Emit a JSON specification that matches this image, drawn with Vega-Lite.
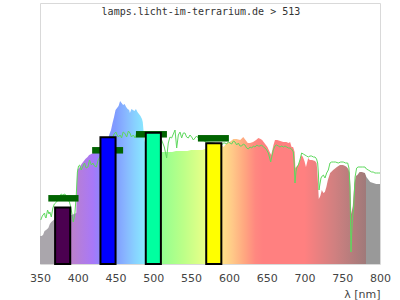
{
  "$schema": "https://vega.github.io/schema/vega-lite/v6.json",
  "width": 340,
  "height": 261,
  "autosize": {"type": "none"},
  "padding": {"left": 40, "top": 3, "right": 20, "bottom": 36},
  "background": "white",
  "config": {
    "view": {"stroke": "#d9d9d9", "strokeWidth": 1},
    "font": "DejaVu Sans",
    "axisX": {
      "grid": false, "domain": false, "ticks": false, "tickSize": 0, "labelPadding": 8,
      "labelFont": "DejaVu Sans", "labelFontSize": 11, "labelColor": "#444444",
      "labelFlush": false, "labelOverlap": false,
      "titleFont": "DejaVu Sans", "titleFontSize": 11, "titleFontWeight": "normal", "titleColor": "#444444",
      "titleAnchor": "end", "titleAlign": "right", "titleBaseline": "alphabetic", "titleX": 340, "titleY": 33
    }
  },
  "datasets": {
    "spectrum": [
      {"wl":350,"value":28},{"wl":352,"value":28},{"wl":354,"value":29},{"wl":356,"value":33},{"wl":358,"value":34},{"wl":361,"value":36},{"wl":363,"value":40},{"wl":365,"value":42},{"wl":368,"value":44},{"wl":372,"value":46},{"wl":376,"value":47},{"wl":380,"value":48},{"wl":385,"value":48},{"wl":390,"value":49},{"wl":392,"value":49},{"wl":395,"value":50},{"wl":398,"value":51},{"wl":399,"value":90},{"wl":400,"value":95},{"wl":402,"value":96},{"wl":405,"value":100},{"wl":408,"value":103},{"wl":410,"value":105},{"wl":413,"value":107},{"wl":415,"value":109},{"wl":418,"value":110},{"wl":420,"value":111},{"wl":423,"value":113},{"wl":425,"value":114},{"wl":428,"value":116},{"wl":432,"value":118},{"wl":436,"value":121},{"wl":440,"value":125},{"wl":442,"value":130},{"wl":444,"value":134},{"wl":446,"value":141},{"wl":448,"value":147},{"wl":450,"value":154},{"wl":452,"value":156},{"wl":454,"value":158},{"wl":456,"value":163},{"wl":458,"value":161},{"wl":460,"value":159},{"wl":462,"value":160},{"wl":464,"value":157},{"wl":466,"value":155},{"wl":468,"value":154},{"wl":469,"value":151},{"wl":471,"value":155},{"wl":473,"value":154},{"wl":475,"value":153},{"wl":477,"value":155},{"wl":479,"value":152},{"wl":481,"value":150},{"wl":483,"value":148},{"wl":485,"value":145},{"wl":486,"value":142},{"wl":488,"value":125},{"wl":490,"value":118},{"wl":495,"value":115},{"wl":500,"value":114},{"wl":505,"value":113},{"wl":510,"value":112},{"wl":515,"value":112},{"wl":520,"value":112},{"wl":525,"value":112},{"wl":530,"value":113},{"wl":535,"value":113},{"wl":540,"value":113},{"wl":545,"value":113},{"wl":550,"value":114},{"wl":555,"value":114},{"wl":560,"value":114},{"wl":565,"value":114},{"wl":568,"value":115},{"wl":572,"value":116},{"wl":576,"value":117},{"wl":580,"value":118},{"wl":585,"value":118},{"wl":590,"value":119},{"wl":593,"value":117},{"wl":597,"value":121},{"wl":601,"value":122},{"wl":606,"value":125},{"wl":610,"value":125},{"wl":615,"value":124},{"wl":619,"value":127},{"wl":622,"value":124},{"wl":625,"value":121},{"wl":628,"value":121},{"wl":632,"value":122},{"wl":636,"value":124},{"wl":639,"value":126},{"wl":642,"value":125},{"wl":644,"value":124},{"wl":648,"value":120},{"wl":651,"value":117},{"wl":654,"value":112},{"wl":656,"value":109},{"wl":659,"value":119},{"wl":661,"value":124},{"wl":664,"value":124},{"wl":668,"value":123},{"wl":672,"value":122},{"wl":676,"value":122},{"wl":679,"value":121},{"wl":681,"value":122},{"wl":683,"value":117},{"wl":685,"value":117},{"wl":687,"value":112},{"wl":688,"value":96},{"wl":690,"value":98},{"wl":692,"value":99},{"wl":694,"value":104},{"wl":696,"value":109},{"wl":698,"value":107},{"wl":700,"value":103},{"wl":702,"value":97},{"wl":705,"value":106},{"wl":707,"value":104},{"wl":710,"value":104},{"wl":714,"value":103},{"wl":716,"value":101},{"wl":717,"value":94},{"wl":719,"value":65},{"wl":721,"value":68},{"wl":723,"value":74},{"wl":725,"value":71},{"wl":727,"value":72},{"wl":729,"value":77},{"wl":731,"value":84},{"wl":734,"value":91},{"wl":738,"value":94},{"wl":743,"value":97},{"wl":747,"value":99},{"wl":751,"value":99},{"wl":754,"value":98},{"wl":756,"value":97},{"wl":758,"value":95},{"wl":760,"value":91},{"wl":761,"value":70},{"wl":762,"value":50},{"wl":764,"value":58},{"wl":766,"value":80},{"wl":768,"value":88},{"wl":770,"value":89},{"wl":773,"value":92},{"wl":776,"value":92},{"wl":780,"value":91},{"wl":782,"value":87},{"wl":785,"value":84},{"wl":787,"value":82},{"wl":791,"value":81},{"wl":795,"value":80},{"wl":800,"value":80}
    ],
    "sun": [
      {"wl":351,"value":44},{"wl":353,"value":48},{"wl":354,"value":49},{"wl":356,"value":51},{"wl":357,"value":47},{"wl":358,"value":46},{"wl":360,"value":54},{"wl":362,"value":50},{"wl":363,"value":52},{"wl":365,"value":47},{"wl":367,"value":56},{"wl":369,"value":60},{"wl":372,"value":62},{"wl":375,"value":66},{"wl":378,"value":70},{"wl":380,"value":69},{"wl":383,"value":70},{"wl":386,"value":66},{"wl":389,"value":62},{"wl":391,"value":56},{"wl":394,"value":42},{"wl":396,"value":49},{"wl":398,"value":69},{"wl":399.5,"value":92},{"wl":401,"value":98},{"wl":402.5,"value":99},{"wl":404.5,"value":94},{"wl":407,"value":98},{"wl":409,"value":101},{"wl":411,"value":96},{"wl":413.5,"value":97},{"wl":415.5,"value":104},{"wl":418,"value":99},{"wl":420,"value":101},{"wl":422,"value":98},{"wl":424.5,"value":97},{"wl":427,"value":104},{"wl":430,"value":108},{"wl":435,"value":113},{"wl":440,"value":118},{"wl":445,"value":124},{"wl":448,"value":130},{"wl":450.5,"value":132},{"wl":452,"value":129},{"wl":453.7,"value":127},{"wl":456,"value":129},{"wl":458,"value":126},{"wl":460,"value":132},{"wl":462,"value":131},{"wl":464.7,"value":127},{"wl":467,"value":133},{"wl":469,"value":131},{"wl":471,"value":127},{"wl":473.5,"value":129},{"wl":476,"value":126},{"wl":478,"value":131},{"wl":480,"value":128},{"wl":482.4,"value":131},{"wl":484.5,"value":127},{"wl":486.7,"value":129},{"wl":490,"value":130},{"wl":500,"value":130},{"wl":508.8,"value":127},{"wl":511,"value":124},{"wl":514.5,"value":117},{"wl":517.6,"value":106},{"wl":519.8,"value":121},{"wl":522,"value":127},{"wl":524.2,"value":126},{"wl":526.5,"value":130},{"wl":528.7,"value":134},{"wl":530.9,"value":116},{"wl":533.1,"value":129},{"wl":535.3,"value":132},{"wl":537.5,"value":126},{"wl":539.7,"value":131},{"wl":541.9,"value":131},{"wl":544,"value":127},{"wl":546.3,"value":126},{"wl":548.5,"value":129},{"wl":550.7,"value":127},{"wl":553,"value":124},{"wl":555.1,"value":126},{"wl":557.3,"value":128},{"wl":559.5,"value":126},{"wl":565,"value":124},{"wl":570,"value":122},{"wl":580,"value":121},{"wl":585,"value":120},{"wl":590.4,"value":119},{"wl":592.6,"value":121},{"wl":594.9,"value":121},{"wl":597,"value":120},{"wl":599.3,"value":122},{"wl":601.5,"value":121},{"wl":603.7,"value":120},{"wl":606,"value":123},{"wl":608.1,"value":122},{"wl":610.3,"value":119},{"wl":612.5,"value":121},{"wl":614.7,"value":118},{"wl":616.9,"value":118},{"wl":619,"value":120},{"wl":621.3,"value":119},{"wl":623.5,"value":116},{"wl":625.7,"value":115},{"wl":628,"value":117},{"wl":630.2,"value":116},{"wl":632.4,"value":118},{"wl":634.6,"value":117},{"wl":637,"value":119},{"wl":639,"value":118},{"wl":641,"value":118},{"wl":643.4,"value":119},{"wl":645.6,"value":117},{"wl":647.8,"value":116},{"wl":650,"value":114},{"wl":652.2,"value":111},{"wl":654,"value":106},{"wl":655.3,"value":102},{"wl":657,"value":108},{"wl":658.8,"value":114},{"wl":661,"value":118},{"wl":663.2,"value":119},{"wl":665.4,"value":118},{"wl":667.6,"value":117},{"wl":670,"value":118},{"wl":672.1,"value":117},{"wl":674.3,"value":118},{"wl":676.5,"value":117},{"wl":678.7,"value":116},{"wl":680.9,"value":116},{"wl":683,"value":115},{"wl":685.3,"value":112},{"wl":686.5,"value":100},{"wl":687.5,"value":81},{"wl":688.7,"value":92},{"wl":689.7,"value":96},{"wl":691.9,"value":99},{"wl":694,"value":104},{"wl":696.3,"value":111},{"wl":698.5,"value":110},{"wl":700.7,"value":109},{"wl":702.9,"value":108},{"wl":705.1,"value":107},{"wl":707.4,"value":108},{"wl":709.6,"value":108},{"wl":711.8,"value":107},{"wl":714,"value":107},{"wl":716,"value":105},{"wl":717.5,"value":101},{"wl":718.5,"value":90},{"wl":719.3,"value":74},{"wl":720.5,"value":80},{"wl":721.9,"value":86},{"wl":723.5,"value":88},{"wl":725,"value":89},{"wl":727.2,"value":86},{"wl":729.4,"value":91},{"wl":731.6,"value":94},{"wl":733.8,"value":101},{"wl":736,"value":102},{"wl":738.2,"value":102},{"wl":741,"value":102},{"wl":744.8,"value":101},{"wl":748,"value":102},{"wl":751.4,"value":102},{"wl":754.5,"value":101},{"wl":757.2,"value":101},{"wl":758.9,"value":96},{"wl":760.3,"value":77},{"wl":761.6,"value":12},{"wl":762.5,"value":30},{"wl":763.4,"value":44},{"wl":765.2,"value":57},{"wl":766,"value":70},{"wl":767,"value":87},{"wl":769.1,"value":96},{"wl":771,"value":97},{"wl":773.5,"value":97},{"wl":777,"value":97},{"wl":780.1,"value":97},{"wl":782,"value":95},{"wl":784.5,"value":94},{"wl":786.7,"value":93},{"wl":788.9,"value":92},{"wl":791,"value":92},{"wl":793.3,"value":91},{"wl":795.5,"value":91},{"wl":797.8,"value":91},{"wl":800,"value":91}
    ],
    "marks": [
      {"lo":361,"hi":401,"value":65.7},
      {"lo":419,"hi":460,"value":113.7},
      {"lo":477,"hi":518,"value":129.7},
      {"lo":559,"hi":600,"value":125.7}
    ],
    "bars": [
      {"band":"380 nm","lo":370,"hi":390,"value":56.5},
      {"band":"440 nm","lo":430,"hi":450,"value":126.8},
      {"band":"500 nm","lo":490,"hi":510,"value":131.2},
      {"band":"580 nm","lo":570,"hi":590,"value":120.8}
    ],
    "heading": [
      {"label": "lamps.licht-im-terrarium.de > 513", "wl": 563, "value": 249}
    ]
  },
  "layer": [
    {
      "data": {"name": "spectrum"},
      "mark": {
        "type": "area",
        "fill": {
          "gradient": "linear", "x1": 0, "y1": 0, "x2": 1, "y2": 0,
          "stops": [
            {"offset": 0, "color": "#aaa6ac"},
            {"offset": 0.0411, "color": "#aaa6ac"},
            {"offset": 0.0412, "color": "#c080c4"},
            {"offset": 0.0933, "color": "#bb80cc"},
            {"offset": 0.1556, "color": "#a878f8"},
            {"offset": 0.1822, "color": "#8a88ff"},
            {"offset": 0.2222, "color": "#7f9cff"},
            {"offset": 0.2489, "color": "#88b4ff"},
            {"offset": 0.2778, "color": "#88d0ff"},
            {"offset": 0.3067, "color": "#88e8ff"},
            {"offset": 0.3533, "color": "#90ff90"},
            {"offset": 0.4222, "color": "#bcff88"},
            {"offset": 0.4844, "color": "#e8ff88"},
            {"offset": 0.5378, "color": "#ffe088"},
            {"offset": 0.5667, "color": "#ffc888"},
            {"offset": 0.6, "color": "#ffa880"},
            {"offset": 0.6333, "color": "#ff8880"},
            {"offset": 0.6556, "color": "#ff8080"},
            {"offset": 0.7778, "color": "#ff8080"},
            {"offset": 0.8667, "color": "#d08080"},
            {"offset": 0.9578, "color": "#a07a7a"},
            {"offset": 0.9589, "color": "#999999"},
            {"offset": 1, "color": "#999999"}
          ]
        }
      },
      "encoding": {
        "x": {"field": "wl", "type": "quantitative", "title": "λ [nm]",
              "scale": {"domain": [350, 800], "nice": false, "zero": false},
              "axis": {"values": [350, 400, 450, 500, 550, 600, 650, 700, 750, 800]}},
        "y": {"field": "value", "type": "quantitative", "scale": {"domain": [0, 261], "nice": false}, "axis": null}
      }
    },
    {
      "data": {"name": "sun"},
      "mark": {"type": "line", "color": "#5ed85e", "strokeWidth": 1},
      "encoding": {
        "x": {"field": "wl", "type": "quantitative", "title": "λ [nm]",
              "axis": {"values": [350, 400, 450, 500, 550, 600, 650, 700, 750, 800]}},
        "y": {"field": "value", "type": "quantitative", "axis": null}
      }
    },
    {
      "data": {"name": "marks"},
      "mark": {"type": "rule", "color": "#006400", "strokeWidth": 6.5, "strokeCap": "butt"},
      "encoding": {
        "x": {"field": "lo", "type": "quantitative", "title": "λ [nm]",
              "axis": {"values": [350, 400, 450, 500, 550, 600, 650, 700, 750, 800]}},
        "x2": {"field": "hi"},
        "y": {"field": "value", "type": "quantitative", "axis": null}
      }
    },
    {
      "data": {"name": "bars"},
      "mark": {"type": "bar", "stroke": "#000000", "strokeWidth": 2, "opacity": 1},
      "encoding": {
        "x": {"field": "lo", "type": "quantitative", "title": "λ [nm]",
              "axis": {"values": [350, 400, 450, 500, 550, 600, 650, 700, 750, 800]}},
        "x2": {"field": "hi"},
        "y": {"field": "value", "type": "quantitative", "axis": null},
        "y2": {"datum": 0},
        "color": {"field": "band", "type": "nominal", "legend": null,
                  "scale": {"domain": ["380 nm", "440 nm", "500 nm", "580 nm"], "range": ["#4b0050", "#0000ff", "#00ffa0", "#ffff00"]}}
      }
    },
    {
      "data": {"name": "heading"},
      "mark": {"type": "text", "font": "DejaVu Sans Mono", "fontSize": 10, "color": "#333333", "align": "center", "baseline": "alphabetic"},
      "encoding": {
        "x": {"field": "wl", "type": "quantitative", "title": "λ [nm]",
              "axis": {"values": [350, 400, 450, 500, 550, 600, 650, 700, 750, 800]}},
        "y": {"field": "value", "type": "quantitative", "axis": null},
        "text": {"field": "label"}
      }
    }
  ]
}
